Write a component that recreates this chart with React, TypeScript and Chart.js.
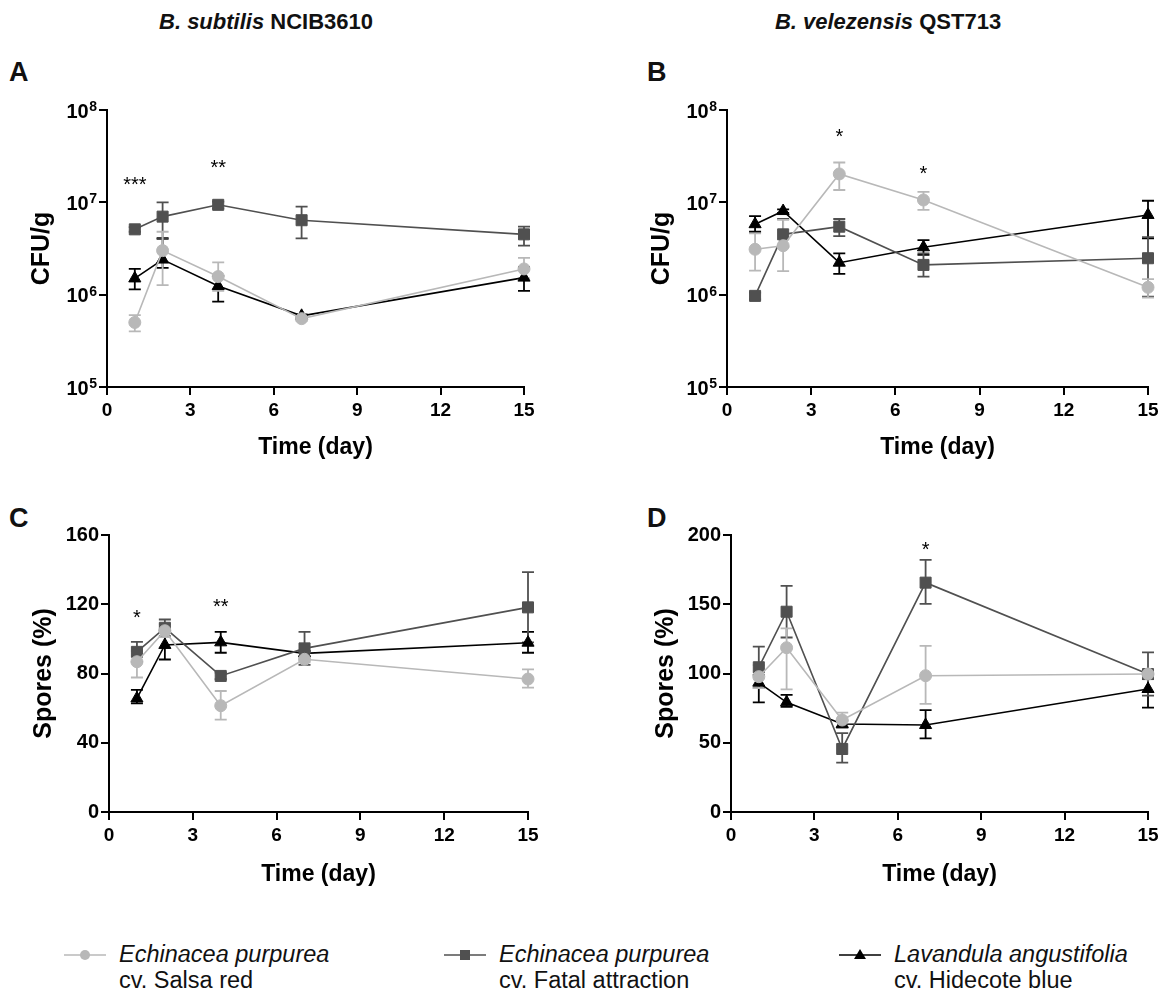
import React, { useEffect, useRef } from "react";
import { Chart, registerables } from "chart.js";
Chart.register(...registerables);

// ---------- data ----------
const days = [1, 2, 4, 7, 15];
const xTicks = [0, 3, 6, 9, 12, 15];
const logTicks = [1e5, 1e6, 1e7, 1e8];
const sporeTicksC = [0, 40, 80, 120, 160];
const sporeTicksD = [0, 50, 100, 150, 200];

const seriesNames = ["Echinacea purpurea cv. Salsa red", "Echinacea purpurea cv. Fatal attraction", "Lavandula angustifolia cv. Hidecote blue"];

// Panel A – B. subtilis NCIB3610, CFU/g
const aSalsa = [5.0e5, 3.0e6, 1.57e6, 5.5e5, 1.9e6];
const aSalsaHi = [6.0e5, 4.8e6, 2.24e6, 5.8e5, 2.5e6];
const aSalsaLo = [4.0e5, 1.27e6, 1.1e6, 5.2e5, 1.5e6];
const aFatal = [5.1e6, 7.0e6, 9.4e6, 6.4e6, 4.5e6];
const aFatalHi = [5.4e6, 1.0e7, 1.02e7, 9.0e6, 5.45e6];
const aFatalLo = [4.8e6, 4.0e6, 8.6e6, 4.07e6, 3.39e6];
const aLav = [1.5e6, 2.4e6, 1.24e6, 5.9e5, 1.53e6];
const aLavHi = [1.9e6, 4.1e6, 1.6e6, 6.1e5, 2.0e6];
const aLavLo = [1.14e6, 1.95e6, 8.4e5, 5.7e5, 1.1e6];
const aStars = [{ day: 1, value: 1.75e7, text: "***" }, { day: 4, value: 2.67e7, text: "**" }];

// Panel B – B. velezensis QST713, CFU/g
const bSalsa = [3.1e6, 3.39e6, 2.03e7, 1.06e7, 1.2e6];
const bSalsaHi = [4.6e6, 6.45e6, 2.7e7, 1.3e7, 1.47e6];
const bSalsaLo = [1.82e6, 1.8e6, 1.36e7, 8.3e6, 9.3e5];
const bFatal = [9.7e5, 4.5e6, 5.45e6, 2.1e6, 2.48e6];
const bFatalHi = [1.05e6, 6.6e6, 6.6e6, 2.8e6, 4.2e6];
const bFatalLo = [8.9e5, 3.3e6, 4.3e6, 1.57e6, 9.5e5];
const bLav = [5.8e6, 8.05e6, 2.22e6, 3.26e6, 7.3e6];
const bLavHi = [7.1e6, 8.4e6, 2.8e6, 3.9e6, 1.04e7];
const bLavLo = [4.8e6, 7.7e6, 1.68e6, 2.7e6, 4.07e6];
const bStars = [{ day: 4, value: 5.9e7, text: "*" }, { day: 7, value: 2.3e7, text: "*" }];

// Panel C – B. subtilis NCIB3610, spores (%)
const cSalsa = [86.8, 104.7, 61.4, 88.2, 76.8];
const cSalsaHi = [93, 108.5, 69.9, 90, 82.4];
const cSalsaLo = [77.7, 101, 53.4, 86.5, 71.8];
const cFatal = [92.5, 106.4, 78.6, 94.5, 118.2];
const cFatalHi = [98.3, 111.2, 80.5, 104, 138.5];
const cFatalLo = [86.7, 101.6, 76.7, 85, 98];
const cLav = [65.6, 96.5, 98.0, 91.6, 97.8];
const cLavHi = [70.5, 104.9, 104, 93, 104];
const cLavLo = [62.7, 88.1, 92, 90, 92];
const cStars = [{ day: 1, value: 115, text: "*" }, { day: 4, value: 121.5, text: "**" }];

// Panel D – B. velezensis QST713, spores (%)
const dSalsa = [97.7, 118.6, 66.4, 98.4, 99.6];
const dSalsaHi = [106, 132.6, 71.7, 119.9, 102];
const dSalsaLo = [89.4, 88.6, 61, 78, 97];
const dFatal = [104.5, 144.6, 45.5, 165.6, 99.6];
const dFatalHi = [119.4, 163.2, 57, 182, 115.3];
const dFatalLo = [89.6, 126, 35.6, 150.2, 84];
const dLav = [93.4, 79.2, 63.5, 62.8, 88.8];
const dLavHi = [99, 84.5, 66, 73.6, 96.2];
const dLavLo = [79.2, 76, 61, 53.2, 75.3];
const dStars = [{ day: 7, value: 192.8, text: "*" }];

// ---------- styling ----------
const FONT = "'Liberation Sans', Arial, Helvetica, sans-serif";
const LIGHT = "#b8b8b8";
const DARK = "#505050";
const BLACK = "#000000";

type Star = { day: number; value: number; text: string };
type Spec = {
  log: boolean;
  yTicks: number[];
  yMax: number;
  yTitle: string;
  series: { v: number[]; hi: number[]; lo: number[] }[];
  stars: Star[];
  padRight: number;
  xHeight: number;
};

const errorBarPlugin = {
  id: "errorBars",
  beforeDatasetsDraw(chart: any) {
    const ctx = chart.ctx;
    const ys = chart.scales.y;
    for (let i = chart.data.datasets.length - 1; i >= 0; i--) {
      const ds: any = chart.data.datasets[i];
      const meta = chart.getDatasetMeta(i);
      ctx.save();
      ctx.strokeStyle = ds.borderColor;
      ctx.lineWidth = 1.8;
      meta.data.forEach((pt: any, j: number) => {
        const yh = ys.getPixelForValue(ds.errHi[j]);
        const yl = ys.getPixelForValue(ds.errLo[j]);
        const x = pt.x;
        ctx.beginPath();
        ctx.moveTo(x, yh);
        ctx.lineTo(x, yl);
        ctx.moveTo(x - 6, yh);
        ctx.lineTo(x + 6, yh);
        ctx.moveTo(x - 6, yl);
        ctx.lineTo(x + 6, yl);
        ctx.stroke();
      });
      ctx.restore();
    }
  },
};

// draws "10" with a raised exponent next to each log tick
const powerLabelPlugin = {
  id: "powerLabels",
  afterDraw(chart: any) {
    const ys = chart.scales.y;
    if (ys.type !== "logarithmic") return;
    const ctx = chart.ctx;
    const right = chart.chartArea.left - 8 - 2;
    ctx.save();
    ctx.fillStyle = "#000";
    ctx.textBaseline = "alphabetic";
    ys.ticks.forEach((t: any) => {
      const y = ys.getPixelForValue(t.value);
      const exp = String(Math.round(Math.log10(t.value)));
      ctx.font = `bold 14px ${FONT}`;
      const ew = ctx.measureText(exp).width;
      ctx.textAlign = "left";
      ctx.fillText(exp, right - ew, y + 1);
      ctx.font = `bold 20px ${FONT}`;
      ctx.textAlign = "right";
      ctx.fillText("10", right - ew - 0.5, y + 7.5);
    });
    ctx.restore();
  },
};

function starsPlugin(stars: Star[]) {
  return {
    id: "stars",
    afterDatasetsDraw(chart: any) {
      const ctx = chart.ctx;
      ctx.save();
      ctx.fillStyle = "#000";
      ctx.font = `20px ${FONT}`;
      ctx.textAlign = "center";
      ctx.textBaseline = "alphabetic";
      stars.forEach((s) => {
        const x = chart.scales.x.getPixelForValue(s.day);
        const y = chart.scales.y.getPixelForValue(s.value);
        ctx.fillText(s.text, x, y + 11.5);
      });
      ctx.restore();
    },
  };
}

function makeConfig(spec: Spec): any {
  const colors = [LIGHT, DARK, BLACK];
  const styles = ["circle", "rect", "triangle"];
  const radii = [6, 7.8, 7];
  const xTickFont = { family: FONT, size: 19, weight: "bold" as const };
  const yTickFont = { family: FONT, size: 20, weight: "bold" as const };
  return {
    type: "line",
    data: {
      datasets: spec.series.map((s, k) => ({
        label: seriesNames[k],
        data: days.map((d, i) => ({ x: d, y: s.v[i] })),
        errHi: s.hi,
        errLo: s.lo,
        borderColor: colors[k],
        backgroundColor: colors[k],
        pointBackgroundColor: colors[k],
        pointBorderColor: colors[k],
        pointStyle: styles[k],
        pointRadius: radii[k],
        pointBorderWidth: 1,
        borderWidth: 1.6,
        tension: 0,
        clip: false,
      })),
    },
    options: {
      responsive: false,
      animation: false,
      events: [],
      layout: { padding: { top: 15, right: spec.padRight, left: 0, bottom: 0 } },
      plugins: { legend: { display: false }, tooltip: { enabled: false } },
      scales: {
        x: {
          type: "linear",
          min: 0,
          max: 15,
          afterBuildTicks: (s: any) => {
            s.ticks = xTicks.map((v) => ({ value: v }));
          },
          afterFit: (s: any) => {
            s.height = spec.xHeight;
          },
          ticks: { font: xTickFont, color: "#000", padding: 4, maxRotation: 0, autoSkip: false },
          grid: { drawOnChartArea: false, color: "#000", lineWidth: 2, tickLength: 8 },
          border: { color: "#000", width: 2 },
          title: { display: true, text: "Time (day)", font: { family: FONT, size: 23, weight: "bold" }, color: "#000", padding: { top: 0, bottom: 0 } },
        },
        y: {
          type: spec.log ? "logarithmic" : "linear",
          min: spec.yTicks[0],
          max: spec.yMax,
          afterBuildTicks: (s: any) => {
            s.ticks = spec.yTicks.map((v) => ({ value: v }));
          },
          afterFit: (s: any) => {
            s.width = 107;
          },
          ticks: {
            display: !spec.log,
            font: yTickFont,
            color: "#000",
            padding: 2,
            autoSkip: false,
            callback: (v: any) => String(v),
          },
          grid: { drawOnChartArea: false, color: "#000", lineWidth: 2, tickLength: 8 },
          border: { color: "#000", width: 2 },
          title: { display: true, text: spec.yTitle, font: { family: FONT, size: 25, weight: "bold" }, color: "#000", padding: { top: 27, bottom: 0 } },
        },
      },
    },
    plugins: [errorBarPlugin, powerLabelPlugin, starsPlugin(spec.stars)],
  };
}

function Panel({ spec, left, top, width, height }: { spec: Spec; left: number; top: number; width: number; height: number }) {
  const ref = useRef<HTMLCanvasElement | null>(null);
  useEffect(() => {
    if (!ref.current) return;
    const chart = new Chart(ref.current, makeConfig(spec));
    return () => chart.destroy();
  }, []);
  return (
    <canvas
      ref={ref}
      width={width}
      height={height}
      style={{ position: "absolute", left, top, width, height }}
    />
  );
}

const specA: Spec = {
  log: true, yTicks: logTicks, yMax: 1e8, yTitle: "CFU/g",
  series: [
    { v: aSalsa, hi: aSalsaHi, lo: aSalsaLo },
    { v: aFatal, hi: aFatalHi, lo: aFatalLo },
    { v: aLav, hi: aLavHi, lo: aLavLo },
  ],
  stars: aStars, padRight: 36, xHeight: 74,
};
const specB: Spec = {
  log: true, yTicks: logTicks, yMax: 1e8, yTitle: "CFU/g",
  series: [
    { v: bSalsa, hi: bSalsaHi, lo: bSalsaLo },
    { v: bFatal, hi: bFatalHi, lo: bFatalLo },
    { v: bLav, hi: bLavHi, lo: bLavLo },
  ],
  stars: bStars, padRight: 15, xHeight: 74,
};
const specC: Spec = {
  log: false, yTicks: sporeTicksC, yMax: 160, yTitle: "Spores (%)",
  series: [
    { v: cSalsa, hi: cSalsaHi, lo: cSalsaLo },
    { v: cFatal, hi: cFatalHi, lo: cFatalLo },
    { v: cLav, hi: cLavHi, lo: cLavLo },
  ],
  stars: cStars, padRight: 34, xHeight: 76,
};
const specD: Spec = {
  log: false, yTicks: sporeTicksD, yMax: 200, yTitle: "Spores (%)",
  series: [
    { v: dSalsa, hi: dSalsaHi, lo: dSalsaLo },
    { v: dFatal, hi: dFatalHi, lo: dFatalLo },
    { v: dLav, hi: dLavHi, lo: dLavLo },
  ],
  stars: dStars, padRight: 15, xHeight: 76,
};

function Marker({ kind, color }: { kind: string; color: string }) {
  return (
    <svg width={42} height={16} style={{ position: "absolute", left: 0, top: 6 }}>
      <line x1={0} y1={8} x2={42} y2={8} stroke={color} strokeWidth={1.6} />
      {kind === "circle" && <circle cx={21} cy={8} r={5} fill={color} />}
      {kind === "rect" && <rect x={16} y={3} width={10} height={10} fill={color} />}
      {kind === "triangle" && <polygon points="21,2 27,12 15,12" fill={color} />}
    </svg>
  );
}

function LegendItem({ left, kind, color, species, cultivar }: { left: number; kind: string; color: string; species: string; cultivar: string }) {
  return (
    <div style={{ position: "absolute", left, top: 941, height: 56, width: 320 }}>
      <Marker kind={kind} color={color} />
      <div style={{ position: "absolute", left: 55, top: 0, fontFamily: FONT, fontSize: 23.5, lineHeight: "26px", color: "#111", whiteSpace: "nowrap" }}>
        <div style={{ fontStyle: "italic" }}>{species}</div>
        <div>{cultivar}</div>
      </div>
    </div>
  );
}

export default function App() {
  const titleStyle: React.CSSProperties = {
    position: "absolute", top: 8, fontFamily: FONT, fontSize: 22, fontWeight: "bold",
    color: "#111", whiteSpace: "nowrap", transform: "translateX(-50%)", lineHeight: "28px",
  };
  const letterStyle: React.CSSProperties = {
    position: "absolute", fontFamily: FONT, fontSize: 27, fontWeight: "bold", color: "#111", lineHeight: "30px",
  };
  return (
    <div style={{ position: "absolute", left: 0, top: 0, width: 1163, height: 998, background: "#fff", overflow: "hidden" }}>
      <div style={{ ...titleStyle, left: 266 }}><i>B. subtilis</i> NCIB3610</div>
      <div style={{ ...titleStyle, left: 888 }}><i>B. velezensis</i> QST713</div>
      <div style={{ ...letterStyle, left: 9, top: 57 }}>A</div>
      <div style={{ ...letterStyle, left: 647, top: 57 }}>B</div>
      <div style={{ ...letterStyle, left: 9, top: 503 }}>C</div>
      <div style={{ ...letterStyle, left: 647, top: 503 }}>D</div>
      <Panel spec={specA} left={0} top={95} width={560} height={366} />
      <Panel spec={specB} left={620} top={95} width={543} height={366} />
      <Panel spec={specC} left={2} top={520} width={560} height={368} />
      <Panel spec={specD} left={624} top={520} width={539} height={368} />
      <LegendItem left={64} kind="circle" color={LIGHT} species="Echinacea purpurea" cultivar="cv. Salsa red" />
      <LegendItem left={444} kind="rect" color={DARK} species="Echinacea purpurea" cultivar="cv. Fatal attraction" />
      <LegendItem left={839} kind="triangle" color={BLACK} species="Lavandula angustifolia" cultivar="cv. Hidecote blue" />
    </div>
  );
}
